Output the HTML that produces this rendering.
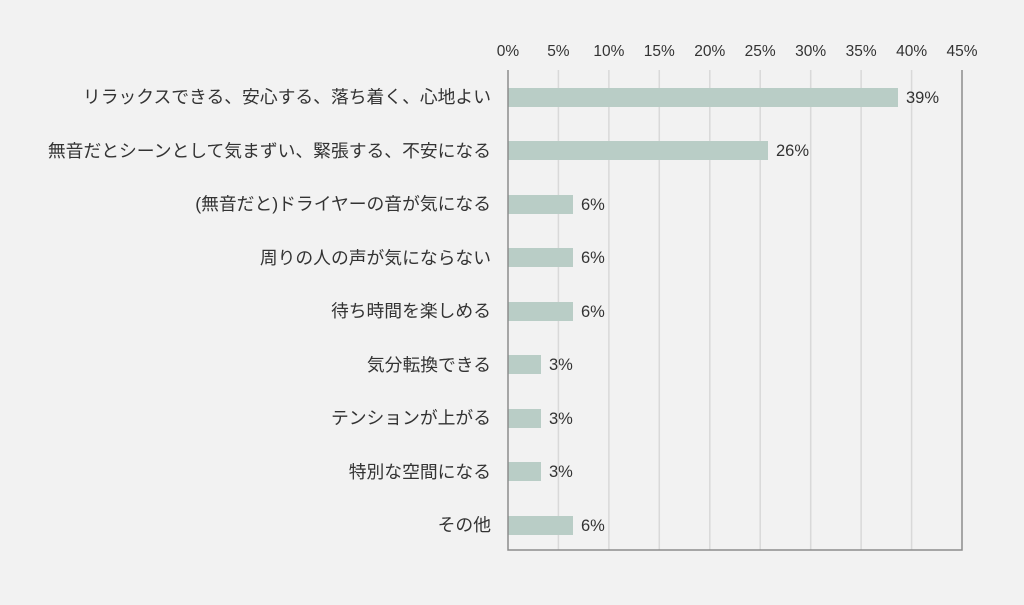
<!DOCTYPE html>
<html><head><meta charset="utf-8"><style>
body{margin:0;background:#f2f2f2;width:1024px;height:600px;overflow:hidden;font-family:"Liberation Sans","Noto Sans CJK JP",sans-serif;}
</style></head><body>
<svg width="1024" height="600" xmlns="http://www.w3.org/2000/svg" style="font-family:'Liberation Sans','Noto Sans CJK JP',sans-serif">
<rect width="1024" height="600" fill="#f2f2f2"/>
<g stroke="#d9d9d9" stroke-width="1.5">
<line x1="558.4" y1="70" x2="558.4" y2="550"/><line x1="608.9" y1="70" x2="608.9" y2="550"/>
<line x1="659.3" y1="70" x2="659.3" y2="550"/><line x1="709.8" y1="70" x2="709.8" y2="550"/>
<line x1="760.2" y1="70" x2="760.2" y2="550"/><line x1="810.7" y1="70" x2="810.7" y2="550"/>
<line x1="861.1" y1="70" x2="861.1" y2="550"/><line x1="911.6" y1="70" x2="911.6" y2="550"/>
</g>
<g fill="#b9cdc6">
<rect x="508" y="88" width="390" height="19"/>
<rect x="508" y="141" width="260" height="19"/>
<rect x="508" y="195" width="65" height="19"/>
<rect x="508" y="248" width="65" height="19"/>
<rect x="508" y="302" width="65" height="19"/>
<rect x="508" y="355" width="33" height="19"/>
<rect x="508" y="409" width="33" height="19"/>
<rect x="508" y="462" width="33" height="19"/>
<rect x="508" y="516" width="65" height="19"/>
</g>
<polyline points="508,70 508,550 962,550 962,70" fill="none" stroke="#8c8c8c" stroke-width="1.5"/>
<g font-size="15.5" fill="#333" text-anchor="middle">
<text x="508" y="56">0%</text><text x="558.4" y="56">5%</text><text x="608.9" y="56">10%</text>
<text x="659.3" y="56">15%</text><text x="709.8" y="56">20%</text><text x="760.2" y="56">25%</text>
<text x="810.7" y="56">30%</text><text x="861.1" y="56">35%</text><text x="911.6" y="56">40%</text><text x="962" y="56">45%</text>
</g>
<g font-size="16.5" fill="#333">
<text x="906" y="103">39%</text><text x="776" y="156">26%</text>
<text x="581" y="210">6%</text><text x="581" y="263">6%</text><text x="581" y="317">6%</text>
<text x="549" y="370">3%</text><text x="549" y="424">3%</text><text x="549" y="477">3%</text><text x="581" y="531">6%</text>
</g>
<g font-size="17.8" fill="#333" text-anchor="end">
<text x="491" y="103">リラックスできる、安心する、落ち着く、心地よい</text>
<text x="491" y="157">無音だとシーンとして気まずい、緊張する、不安になる</text>
<text x="491" y="210">(無音だと)ドライヤーの音が気になる</text>
<text x="491" y="264">周りの人の声が気にならない</text>
<text x="491" y="317">待ち時間を楽しめる</text>
<text x="491" y="371">気分転換できる</text>
<text x="491" y="424">テンションが上がる</text>
<text x="491" y="478">特別な空間になる</text>
<text x="491" y="531">その他</text>
</g>
</svg>
</body></html>
